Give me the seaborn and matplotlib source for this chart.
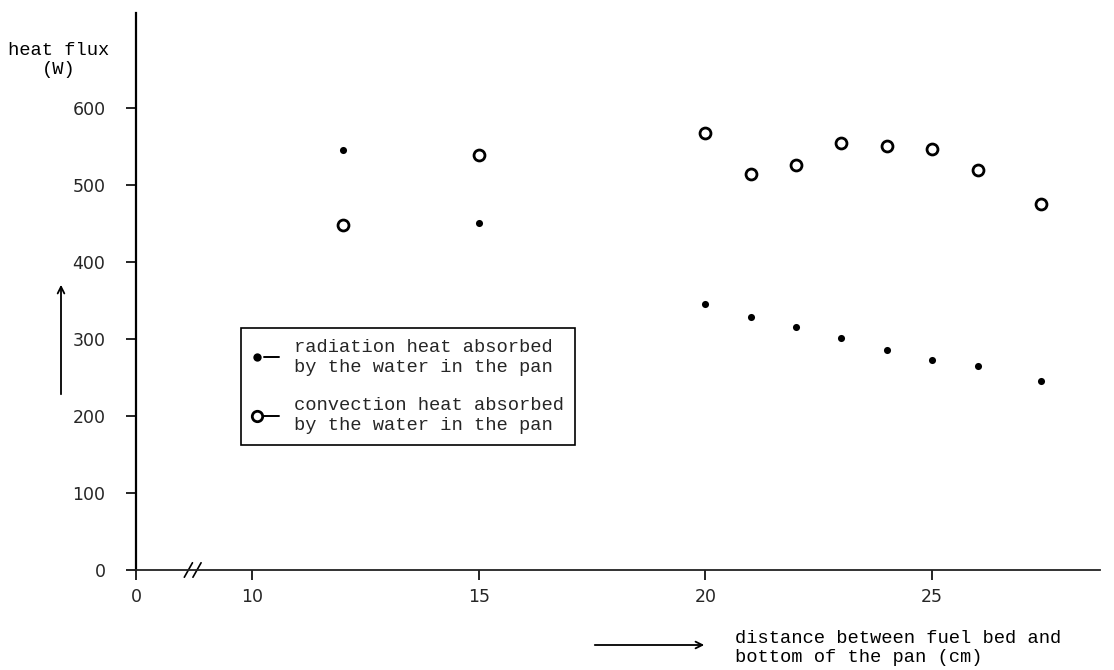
import numpy as np
import pandas as pd
import seaborn as sns
import matplotlib.pyplot as plt
from matplotlib.lines import Line2D
from matplotlib.legend_handler import HandlerBase
from matplotlib.transforms import blended_transform_factory

# distance between fuel bed and bottom of the pan (cm)
distance = [12, 15, 20, 21, 22, 23, 24, 25, 26, 27.4]
# heat flux (W)
radiation = [545, 451, 345, 329, 316, 301, 285, 273, 265, 245]
convection = [448, 539, 567, 514, 526, 554, 550, 547, 519, 475]

x_ticks = [10, 15, 20, 25]
y_ticks = [0, 100, 200, 300, 400, 500, 600]
legend_labels = ["radiation heat absorbed\nby the water in the pan",
                 "convection heat absorbed\nby the water in the pan"]


class DotDash(HandlerBase):
    # marker on the left, short dash after it: "o—"
    def create_artists(self, legend, orig, xdescent, ydescent, width,
                       height, fontsize, trans):
        y = height / 2 - ydescent
        x0 = -xdescent
        dot = Line2D([x0 + 0.18 * width], [y])
        dot.update_from(orig)
        dot.set_linestyle("none")
        dash = Line2D([x0 + 0.45 * width, x0 + width], [y, y],
                      color="black", lw=1.4)
        dot.set_transform(trans)
        dash.set_transform(trans)
        return [dash, dot]


sns.set_theme(style="ticks")
plt.rcParams['font.family'] = ['Liberation Mono', 'DejaVu Sans Mono']

df = pd.DataFrame({"x": distance, "rad": radiation, "conv": convection})

W, H = 1114, 670
fig = plt.figure(figsize=(W / 100, H / 100), dpi=100)
ax = fig.add_axes([136 / W, 1 - 570 / H, (1100 - 136) / W, (570 - 13) / H])

sns.scatterplot(data=df, x="x", y="rad", ax=ax, color="black", s=26,
                linewidth=0, legend=False, zorder=3)
sns.scatterplot(data=df, x="x", y="conv", ax=ax, color="white",
                edgecolor="black", s=62, linewidth=2.0, legend=False, zorder=3)

# broken x axis: the "0" sits at the left end of the axis
x_left = 10 - (252 - 136) / 45.4
ax.set_xlim(x_left, 28.7)
ax.set_ylim(0, 723)
ax.set_xticks([x_left] + x_ticks)
ax.set_xticklabels(["0"] + [str(t) for t in x_ticks])
ax.set_yticks(y_ticks)
ax.set_xlabel("")
ax.set_ylabel("")

ax.tick_params(axis="y", length=7, width=1.2, pad=15, labelsize=12.5,
               labelfontfamily="DejaVu Sans", color="black")
ax.tick_params(axis="x", length=7, width=1.2, pad=6, labelsize=12.5,
               labelfontfamily="DejaVu Sans", color="black")
ax.spines[["top", "right"]].set_visible(False)
ax.spines["left"].set_linewidth(1.6)
ax.spines["bottom"].set_linewidth(1.3)
ax.spines["left"].set_color("black")
ax.spines["bottom"].set_color("#222222")

trans = blended_transform_factory(ax.transData, ax.transAxes)
for xb in (8.6, 8.79):
    ax.plot([xb - 0.09, xb + 0.09], [-0.013, 0.013], transform=trans,
            color="black", lw=1.2, clip_on=False)

handles = [
    Line2D([0], [0], marker="o", markersize=6, markerfacecolor="black",
           markeredgecolor="black", markeredgewidth=0),
    Line2D([0], [0], marker="o", markersize=7.5, markerfacecolor="white",
           markeredgecolor="black", markeredgewidth=2.0),
]
leg = ax.legend(handles, legend_labels, loc="upper left",
                bbox_to_anchor=(241 / W, 1 - 328 / H),
                bbox_transform=fig.transFigure, borderaxespad=0,
                handler_map={Line2D: DotDash()},
                fontsize=13.5, handlelength=1.45, handletextpad=0.75,
                labelspacing=1.15, borderpad=0.6,
                frameon=True, fancybox=False, framealpha=1,
                edgecolor="black")
leg.get_frame().set_linewidth(1.2)
for t in leg.get_texts():
    t.set_linespacing(1.2)

fig.text(59 / W, 1 - 60 / H, "heat flux\n(W)", ha="center", va="center",
         fontsize=13.5, linespacing=1.2, color="black")
fig.text(735 / W, 1 - 648 / H,
         "distance between fuel bed and\nbottom of the pan (cm)",
         ha="left", va="center", fontsize=13.5, linespacing=1.1,
         color="black")

ax.annotate("", xy=(61 / W, 1 - 282 / H), xytext=(61 / W, 1 - 397 / H),
            xycoords="figure fraction", textcoords="figure fraction",
            arrowprops=dict(arrowstyle="->", lw=1.3, color="black"))
ax.annotate("", xy=(707 / W, 1 - 645 / H), xytext=(592 / W, 1 - 645 / H),
            xycoords="figure fraction", textcoords="figure fraction",
            arrowprops=dict(arrowstyle="->", lw=1.3, color="black"))

fig.savefig("out.png", dpi=100, facecolor="white")
